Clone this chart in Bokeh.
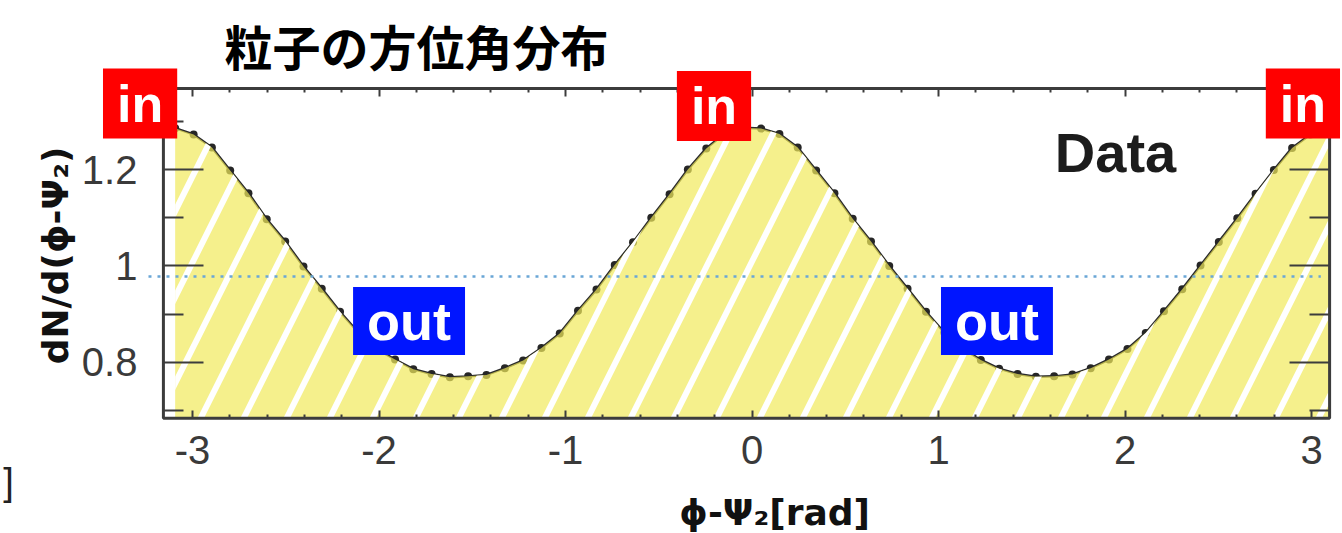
from bokeh.plotting import figure
from bokeh.models import Label, FixedTicker, LinearAxis, Range1d
from bokeh.embed import file_html
from bokeh.resources import INLINE

# --- chart data -------------------------------------------------------------
title_text = "粒子の方位角分布"
x_label = "ϕ-Ψ₂[rad]"
y_label = "dN/d(ϕ-Ψ₂)"

x_ticks = [-3, -2, -1, 0, 1, 2, 3]
x_tick_labels = ["-3", "-2", "-1", "0", "1", "2", "3"]
y_ticks = [0.8, 1.0, 1.2]
y_tick_labels = ["0.8", "1", "1.2"]

# azimuthal angle relative to the event plane (bin centres, rad)
phi = [
    -3.093, -2.994, -2.896, -2.798, -2.700, -2.602, -2.503, -2.405,
    -2.307, -2.209, -2.111, -2.013, -1.914, -1.816, -1.718, -1.620,
    -1.522, -1.424, -1.325, -1.227, -1.129, -1.031, -0.933, -0.834,
    -0.736, -0.638, -0.540, -0.442, -0.344, -0.245, -0.147, -0.049,
    0.049, 0.147, 0.245, 0.344, 0.442, 0.540, 0.638, 0.736,
    0.834, 0.933, 1.031, 1.129, 1.227, 1.325, 1.424, 1.522,
    1.620, 1.718, 1.816, 1.914, 2.013, 2.111, 2.209, 2.307,
    2.405, 2.503, 2.602, 2.700, 2.798, 2.896, 2.994, 3.093,
]
# normalised particle yield per bin
dndphi = [
    1.286, 1.273, 1.246, 1.198, 1.151, 1.097, 1.051, 0.999,
    0.953, 0.905, 0.862, 0.828, 0.806, 0.786, 0.776, 0.769,
    0.771, 0.774, 0.788, 0.804, 0.830, 0.860, 0.907, 0.951,
    1.002, 1.049, 1.100, 1.149, 1.200, 1.244, 1.275, 1.287,
    1.285, 1.274, 1.246, 1.198, 1.151, 1.098, 1.051, 1.000,
    0.953, 0.905, 0.862, 0.829, 0.805, 0.787, 0.776, 0.770,
    0.771, 0.775, 0.788, 0.806, 0.828, 0.861, 0.906, 0.952,
    1.001, 1.050, 1.099, 1.150, 1.199, 1.245, 1.273, 1.286,
]
mean_level = 0.978

# in-plane / out-of-plane directions
in_plane_angles = [-3.14159, 0.0, 3.14159]
out_plane_angles = [-1.5708, 1.5708]

# --- layout constants --------------------------------------------------------
# visible axes box (data units) and the full drawing canvas around it
x_view = (-3.156, 3.097)
y_view = (0.684, 1.368)
x_canvas = (-4.0295, 3.1662)
y_canvas = (0.44502, 1.5508)
mean_line_extent = (-3.236, 3.05)

x_minor = [round(-3.0 + 0.2 * i, 1) for i in range(31) if (i % 5) != 0]
y_minor = [0.7, 0.9, 1.1, 1.3]

AXIS_COLOR = "#3c3c3c"

p = figure(
    width=1342, height=533,
    x_range=Range1d(*x_canvas), y_range=Range1d(*y_canvas),
    output_backend="svg", toolbar_location=None,
    min_border=0, min_border_left=0, min_border_right=0,
    min_border_top=0, min_border_bottom=0,
    background_fill_color="white", border_fill_color="white",
    outline_line_color=None,
)
p.xgrid.visible = False
p.ygrid.visible = False


def style_ticks(ax, tick_in, minor_in):
    ax.axis_line_color = None
    ax.major_tick_in = tick_in
    ax.major_tick_out = 0
    ax.minor_tick_in = minor_in
    ax.minor_tick_out = 0
    ax.major_tick_line_color = AXIS_COLOR
    ax.minor_tick_line_color = AXIS_COLOR
    ax.major_tick_line_width = 2
    ax.minor_tick_line_width = 2


# bottom axis, pinned to the lower edge of the box
xaxis = p.xaxis[0]
xaxis.fixed_location = y_view[0]
xaxis.ticker = FixedTicker(ticks=x_ticks, minor_ticks=x_minor)
xaxis.major_label_overrides = dict(zip(x_ticks, x_tick_labels))
style_ticks(xaxis, 8, 4)
xaxis.major_label_text_font = "Liberation Sans"
xaxis.major_label_text_font_size = "40px"
xaxis.major_label_text_color = "#3a3a3a"
xaxis.major_label_standoff = 18

# left axis, pinned to the left edge of the box
yaxis = p.yaxis[0]
yaxis.fixed_location = x_view[0]
yaxis.ticker = FixedTicker(ticks=y_ticks, minor_ticks=y_minor)
yaxis.major_label_overrides = dict(zip(y_ticks, y_tick_labels))
style_ticks(yaxis, 40, 20)
yaxis.major_label_text_font = "Liberation Sans"
yaxis.major_label_text_font_size = "40px"
yaxis.major_label_text_color = "#3a3a3a"
yaxis.major_label_standoff = 26

# mirrored tick marks on the top and right edges (no labels)
for marks, length in ((x_ticks, 8), (x_minor, 4)):
    ax = LinearAxis(fixed_location=y_view[1],
                    ticker=FixedTicker(ticks=[], minor_ticks=marks))
    style_ticks(ax, 0, length)
    p.add_layout(ax, "above")
for marks, length in ((y_ticks, 40), (y_minor, 20)):
    ax = LinearAxis(fixed_location=x_view[1],
                    ticker=FixedTicker(ticks=[], minor_ticks=marks))
    style_ticks(ax, 0, length)
    p.add_layout(ax, "right")

# axis titles, centred on the axes box
p.add_layout(Label(
    x=0.121, y=0.4896, text=x_label, text_align="center",
    text_baseline="middle", text_font="DejaVu Sans",
    text_font_style="bold", text_font_size="36px", text_color="#111111",
))
p.add_layout(Label(
    x=-3.7346, y=1.0218, text=y_label, angle=1.5708, text_align="center",
    text_baseline="middle", text_font="DejaVu Sans",
    text_font_style="bold", text_font_size="36px", text_color="#111111",
))

# --- data --------------------------------------------------------------------
p.line(phi, dndphi, line_color="#2a2a2a", line_width=2.5)
p.scatter(phi, dndphi, size=8, fill_color="#262626", line_color=None)

# hatched yield area under the distribution
p.varea(
    x=phi, y1=[y_view[0]] * len(phi), y2=dndphi,
    fill_color="#f1ea5b", fill_alpha=0.7,
    hatch_pattern="/", hatch_color="white", hatch_weight=6,
    hatch_scale=86, hatch_alpha=1.0,
)

# average level
p.line(x=list(mean_line_extent), y=[mean_level, mean_level],
       line_color="#6aa6d6", line_width=2.5, line_dash="3 6")

# axes box
p.quad(left=[x_view[0]], right=[x_view[1]], bottom=[y_view[0]], top=[y_view[1]],
       fill_color=None, line_color=AXIS_COLOR, line_width=3)

# --- annotations -------------------------------------------------------------
p.add_layout(Label(
    x=-1.799, y=1.4575, text=title_text, text_align="center",
    text_baseline="middle", text_font="Noto Sans CJK JP",
    text_font_style="bold", text_font_size="48px", text_color="black",
))
p.add_layout(Label(
    x=1.949, y=1.236, text="Data", text_align="center",
    text_baseline="middle", text_font="Liberation Sans",
    text_font_style="bold", text_font_size="56px", text_color="#1c1c1c",
))

in_offsets = [-26, -38, -35]
in_y = [1.337, 1.332, 1.337]
for ang, dx, yy in zip(in_plane_angles, in_offsets, in_y):
    p.add_layout(Label(
        x=ang, y=yy, x_offset=dx, text="in", text_align="center",
        text_baseline="middle", text_font="Liberation Sans",
        text_font_style="bold", text_font_size="52px", text_color="white",
        background_fill_color="#ff0000",
        padding=dict(left=14, right=14, top=6, bottom=6),
    ))

out_offsets = [-50, -48]
for ang, dx in zip(out_plane_angles, out_offsets):
    p.add_layout(Label(
        x=ang, y=0.886, x_offset=dx, text="out", text_align="center",
        text_baseline="middle", text_font="Liberation Sans",
        text_font_style="bold", text_font_size="54px", text_color="white",
        background_fill_color="#0015ff",
        padding=dict(left=14, right=14, top=4, bottom=4),
    ))

# bracket fragment at the lower left edge
p.add_layout(Label(
    x=-3.987, y=0.5529, text="]", text_align="center", text_baseline="middle",
    text_font="Liberation Sans", text_font_size="38px", text_color="#222222",
))

open("out.html", "w").write(file_html(p, INLINE))
